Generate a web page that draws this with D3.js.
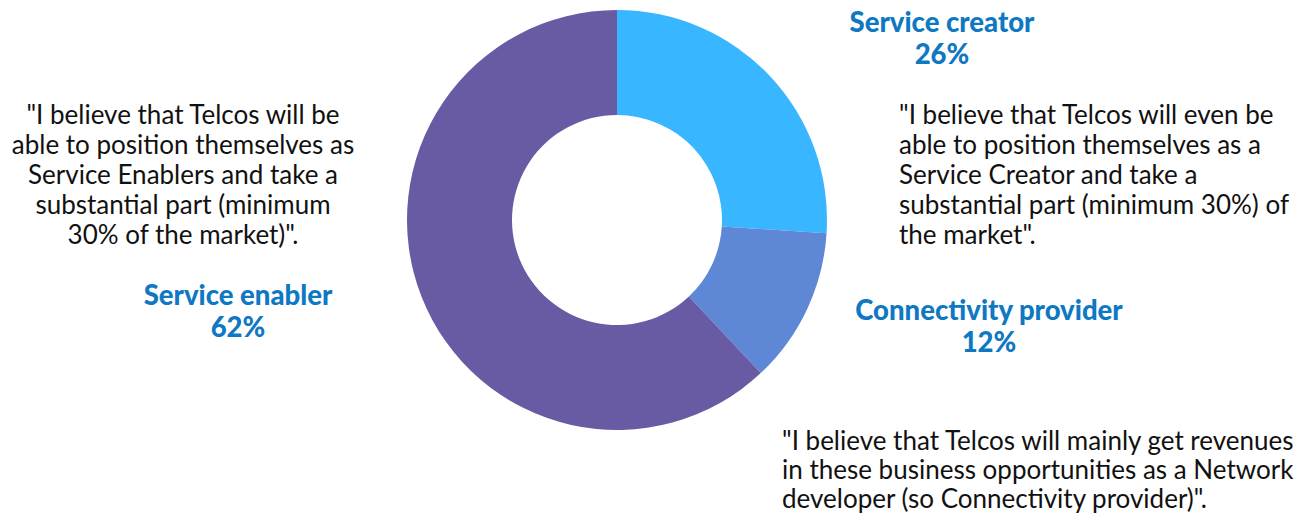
<!DOCTYPE html>
<html>
<head>
<meta charset="utf-8">
<script src="https://cdn.jsdelivr.net/npm/d3@7"></script>
<style>
  html, body { margin: 0; padding: 0; background: #ffffff; }
  svg { display: block; }
  .quote { font-family: Lato, "Open Sans", sans-serif; font-weight: 400; font-size: 26px; fill: #111111; }
  .label { font-family: Lato, "Open Sans", sans-serif; font-weight: 900; font-size: 27.5px; fill: #0f78c2; }
</style>
</head>
<body>
<svg id="chart" width="1311" height="521"></svg>
<script>
// Share of expected Telco role
const categories = ["Service creator", "Connectivity provider", "Service enabler"];
const values = [26, 12, 62];
const colors = ["#38b6ff", "#5e88d6", "#695ba3"];

// Quotes attached to each role
const quoteCreator = [
  "\"I believe that Telcos will even be",
  "able to position themselves as a",
  "Service Creator and take a",
  "substantial part (minimum 30%) of",
  "the market\"."
];
const quoteEnabler = [
  "\"I believe that Telcos will be",
  "able to position themselves as",
  "Service Enablers and take a",
  "substantial part (minimum",
  "30% of the market)\"."
];
const quoteConnectivity = [
  "\"I believe that Telcos will mainly get revenues",
  "in these business opportunities as a Network",
  "developer (so Connectivity provider)\"."
];

const svg = d3.select("#chart");
const cx = 617, cy = 220, outerR = 210, innerR = 105;

const pie = d3.pie().sort(null).value(d => d);
const arc = d3.arc().innerRadius(innerR).outerRadius(outerR);

svg.append("g")
  .attr("transform", `translate(${cx},${cy})`)
  .selectAll("path")
  .data(pie(values))
  .join("path")
  .attr("d", arc)
  .attr("fill", (d, i) => colors[i]);

// Category labels with percentages
const labelPos = [
  { x: 942, y: 32 },
  { x: 989, y: 320 },
  { x: 238, y: 305 }
];
categories.forEach((c, i) => {
  const t = svg.append("text")
    .attr("class", "label")
    .attr("text-anchor", "middle")
    .attr("x", labelPos[i].x)
    .attr("y", labelPos[i].y);
  t.append("tspan").attr("x", labelPos[i].x).attr("dy", 0).text(c);
  t.append("tspan").attr("x", labelPos[i].x).attr("dy", 32).text(values[i] + "%");
});

function drawQuote(lines, x, y, anchor, lh) {
  const t = svg.append("text")
    .attr("class", "quote")
    .attr("text-anchor", anchor)
    .attr("x", x)
    .attr("y", y);
  lines.forEach((l, i) => {
    t.append("tspan").attr("x", x).attr("dy", i === 0 ? 0 : lh).text(l);
  });
}

drawQuote(quoteEnabler, 183, 124, "middle", 30);
drawQuote(quoteCreator, 899, 124, "start", 30);
drawQuote(quoteConnectivity, 782, 450, "start", 29);
</script>
</body>
</html>
